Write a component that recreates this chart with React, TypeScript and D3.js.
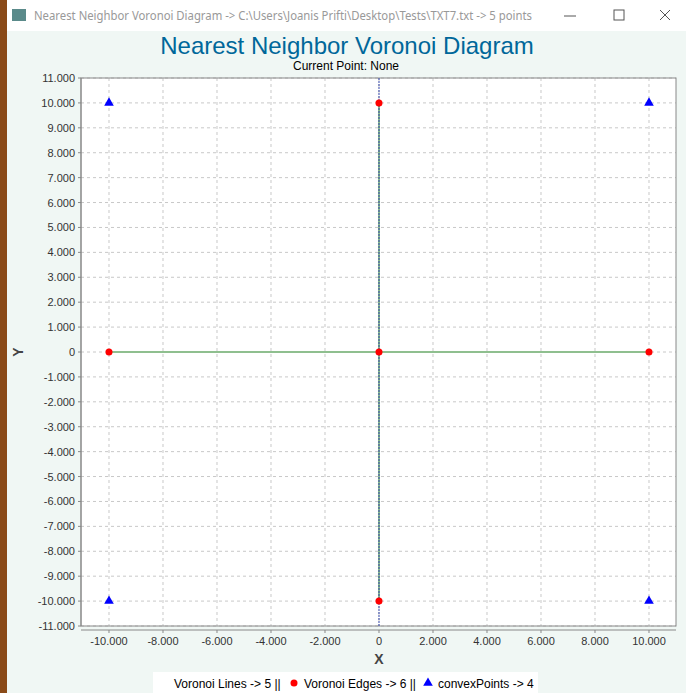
import React from 'react';
import * as d3 from 'd3';

// voronoi lines (green segments)
const voronoiLines = [
  { x1: -10000, y1: 0, x2: 0, y2: 0 },
  { x1: 0, y1: 0, x2: 10000, y2: 0 },
  { x1: 0, y1: 0, x2: 0, y2: 10000 },
  { x1: 0, y1: 0, x2: 0, y2: -10000 },
];
const voronoiEdges = [
  [0, 10000], [-10000, 0], [0, 0], [10000, 0], [0, -10000],
];
const convexPoints = [
  [-10000, 10000], [10000, 10000], [-10000, -10000], [10000, -10000],
];
const xTicks = d3.range(-10000, 10001, 2000);
const yTicks = d3.range(-11000, 11001, 1000);

const W = 686, H = 693;
const L = 81, R = 676, T = 78, B = 626;

export default function App() {
  const x = d3.scaleLinear().domain([-11037, 11000]).range([L, R]);
  const y = d3.scaleLinear().domain([-11000, 11000]).range([B, T]);
  const fmt = (v: number) => (v === 0 ? '0' : d3.format(',')(v).replace(/,/g, '.').replace('\u2212', '-'));
  const font = 'Liberation Sans, Arial, sans-serif';
  const tri = d3.symbol(d3.symbolTriangle, 40)()!;
  return (
    <svg width={W} height={H} style={{ position: 'absolute', left: 0, top: 0 }} fontFamily={font}>
      <rect width={W} height={H} fill="#f0f7f4" />
      <rect x={0} y={0} width={7} height={H} fill="#8a4a18" />
      <rect x={7} y={0} width={W - 7} height={31} fill="#ffffff" />
      <rect x={12} y={9} width={14} height={12} fill="#5a8a8a" />
      <text x={34} y={20} fontSize={12} fill="#999" textLength={498} lengthAdjust="spacingAndGlyphs" fontFamily="Segoe UI, Noto Sans, sans-serif">
        {'Nearest Neighbor Voronoi Diagram -> C:\\Users\\Joanis Prifti\\Desktop\\Tests\\TXT7.txt -> 5 points'}
      </text>
      <line x1={564} x2={576} y1={16} y2={16} stroke="#555" />
      <rect x={614} y={10} width={10} height={10} fill="none" stroke="#555" />
      <path d="M660,10 L670,20 M670,10 L660,20" stroke="#555" />
      <text x={347} y={54} textAnchor="middle" fontSize={24} fill="#00679a">Nearest Neighbor Voronoi Diagram</text>
      <text x={346} y={70} textAnchor="middle" fontSize={12} fill="#000">Current Point: None</text>
      <rect x={L} y={T} width={R - L} height={B - T} fill="#fff" />
      {xTicks.map(t => (
        <line key={'gx' + t} x1={x(t)} x2={x(t)} y1={T} y2={B} stroke="#c8c8c8" strokeDasharray="3,3" />
      ))}
      {yTicks.map(t => (
        <line key={'gy' + t} x1={L} x2={R} y1={y(t)} y2={y(t)} stroke="#c8c8c8" strokeDasharray="3,3" />
      ))}
      <rect x={L} y={T} width={R - L} height={B - T} fill="none" stroke="#888" />
      {voronoiLines.map((l, i) => (
        <line key={i} x1={x(l.x1)} x2={x(l.x2)} y1={y(l.y1)} y2={y(l.y2)} stroke="#8fbf8f" strokeWidth={2} />
      ))}
      <line x1={x(0)} x2={x(0)} y1={T} y2={B} stroke="#3344aa" strokeDasharray="2,1" strokeWidth={1} />
      {voronoiEdges.map((p, i) => (
        <circle key={i} cx={x(p[0])} cy={y(p[1])} r={3.5} fill="#ff0000" />
      ))}
      {convexPoints.map((p, i) => (
        <path key={i} d={tri} transform={`translate(${x(p[0])},${y(p[1])})`} fill="#0000ff" />
      ))}
      <line x1={L} x2={L} y1={T} y2={B} stroke="#888" />
      {yTicks.map(t => (
        <g key={'ty' + t}>
          <line x1={L - 3} x2={L} y1={y(t)} y2={y(t)} stroke="#888" />
          <text x={L - 6} y={y(t) + 4} textAnchor="end" fontSize={11} fill="#333">{fmt(t)}</text>
        </g>
      ))}
      <line x1={L} x2={R} y1={B + 4} y2={B + 4} stroke="#888" />
      {xTicks.map(t => (
        <g key={'tx' + t}>
          <line x1={x(t)} x2={x(t)} y1={B + 4} y2={B + 7} stroke="#888" />
          <text x={x(t)} y={B + 19} textAnchor="middle" fontSize={11} fill="#333">{fmt(t)}</text>
        </g>
      ))}
      <text x={379} y={664} textAnchor="middle" fontSize={14} fontWeight="bold" fill="#444">X</text>
      <text transform="translate(23,352) rotate(-90)" textAnchor="middle" fontSize={14} fontWeight="bold" fill="#444">Y</text>
      <rect x={153} y={672} width={385} height={21} fill="#fff" />
      <text x={174} y={688} fontSize={12} fill="#000">{'Voronoi Lines -> 5 ||'}</text>
      <circle cx={294} cy={683} r={3.5} fill="#ff0000" />
      <text x={304} y={688} fontSize={12} fill="#000">{'Voronoi Edges -> 6 ||'}</text>
      <path d={tri} transform="translate(428,683)" fill="#0000ff" />
      <text x={438} y={688} fontSize={12} fill="#000">{'convexPoints -> 4'}</text>
    </svg>
  );
}
